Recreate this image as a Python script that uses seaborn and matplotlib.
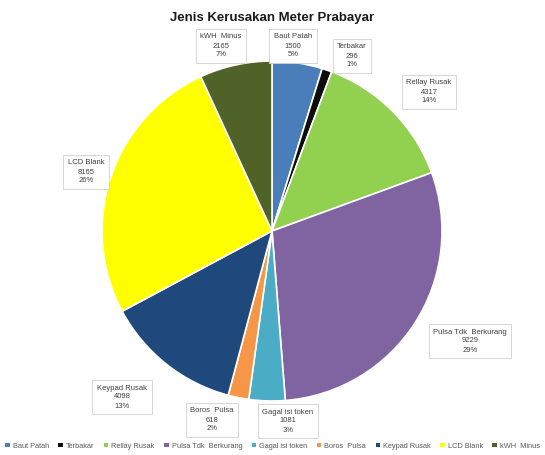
import numpy as np
import matplotlib
matplotlib.use("Agg")
import matplotlib.pyplot as plt
import seaborn as sns
from matplotlib.patches import Patch

categories = ["Baut Patah", "Terbakar", "Rellay Rusak", "Pulsa Tdk  Berkurang",
              "Gagal isi token", "Boros  Pulsa", "Keypad Rusak", "LCD Blank", "kWH  Minus"]
values = [1500, 296, 4317, 9229, 1081, 618, 4098, 8165, 2165]
percent_labels = ["5%", "1%", "14%", "29%", "3%", "2%", "13%", "26%", "7%"]

colors = ["#4a7ebb", "#0d0d0d", "#92d050", "#8064a2", "#4bacc6",
          "#f79646", "#1f497d", "#ffff00", "#4f6228"]
# label box centres in pixel coords (x, y from top)
label_pos = [(293, 46), (352, 56), (429, 92), (470, 341), (288, 421),
             (212, 420), (122, 397), (86, 172), (221, 46)]


def main():
    sns.set_style("white")
    plt.rcParams["font.family"] = ["Liberation Sans", "DejaVu Sans"]

    W, H = 545, 455
    fig = plt.figure(figsize=(W / 100, H / 100), dpi=100)
    ax = fig.add_axes([0, 0, 1, 1])

    ax.pie(values, colors=colors, startangle=90, counterclock=False,
           center=(272, H - 231), radius=170,
           wedgeprops=dict(edgecolor="white", linewidth=1.2))
    ax.set_xlim(0, W)
    ax.set_ylim(0, H)
    ax.set_aspect("equal")
    ax.axis("off")

    for cat, v, p, (x, y) in zip(categories, values, percent_labels, label_pos):
        ax.text(x, H - y, f"{cat}\n{v}\n{p}", ha="center", va="center",
                fontsize=5.5, color="#404040", linespacing=1.4,
                bbox=dict(boxstyle="square,pad=0.6", fc="white", ec="#d0d0d0", lw=0.6))

    fig.text(0.5, 1 - 18 / H, "Jenis Kerusakan Meter Prabayar", ha="center", va="center",
             fontsize=9.5, fontweight="bold", color="#1a1a1a")

    handles = [Patch(facecolor=c, edgecolor="none") for c in colors]
    fig.legend(handles, categories, loc="center", bbox_to_anchor=(0.5, 1 - 446 / H),
               ncol=9, frameon=False, fontsize=5.3, handlelength=0.6, handleheight=0.6,
               handletextpad=0.4, columnspacing=1.3, labelcolor="#595959")

    fig.savefig("out.png", dpi=100, facecolor="white")


if __name__ == "__main__":
    main()
